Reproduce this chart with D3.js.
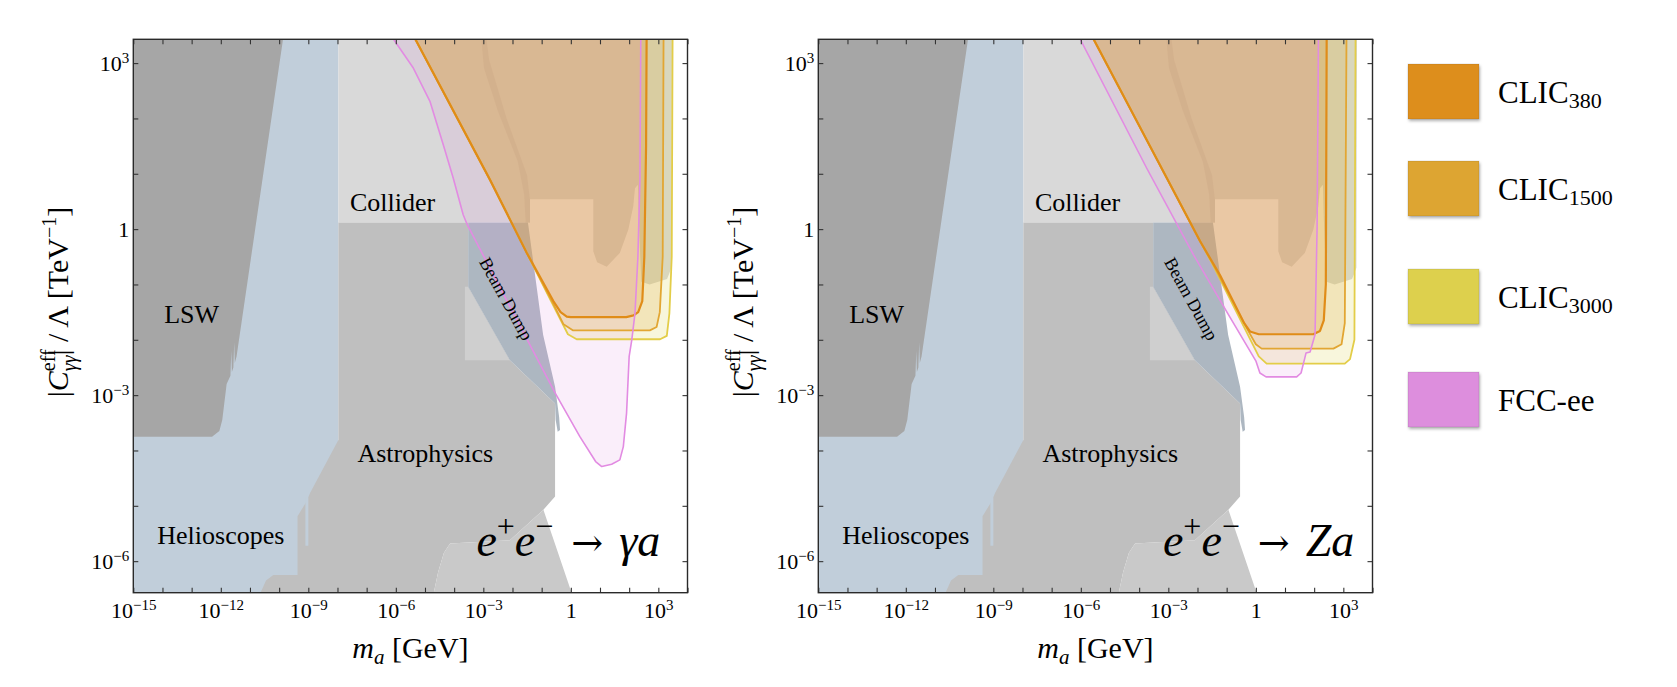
<!DOCTYPE html>
<html>
<head>
<meta charset="utf-8">
<script src="https://cdn.jsdelivr.net/npm/d3@7"></script>
<style>
  body { margin: 0; background: #fff; }
  svg text { font-family: "Liberation Serif", "Times New Roman", serif; fill: #000; }
</style>
</head>
<body>
<svg id="axion" width="1677" height="687"></svg>
<script>
// every boundary is given as [log10(m_a / GeV), log10(|C| / Lambda * TeV)]

// existing bounds (same in both panels)
var helioscopes = [[-15, 3.6], [-7.97, 3.6], [-7.97, -7], [-15, -7]];
var helioSliver = [[-9.1, -4.85], [-9.0, -4.85], [-9.0, -5.72], [-9.1, -5.72]];
var lsw = [[-15, 3.6], [-9.82, 3.6], [-11.46, -2.3], [-11.52, -2.42], [-11.54, -2.05], [-11.57, -2.5],
           [-11.62, -2.58], [-11.64, -2.2], [-11.67, -2.65], [-11.8, -2.8],
           [-11.95, -3.45], [-12.05, -3.65], [-12.3, -3.75], [-15, -3.75]];
var collider = [[-7.97, 3.6], [3.47, 3.6], [3.45, -0.7], [3.3, -0.9], [3.0, -0.95], [2.7, -1.0],
                [2.42, -0.95], [2.38, -0.5], [2.33, 0.2], [2.3, 0.8], [2.2, 0.74], [2.14, 0.41],
                [1.97, -0.01], [1.68, -0.43], [1.23, -0.68], [0.9, -0.6], [0.77, -0.4],
                [0.77, 0.54], [-1.4, 0.54], [-1.4, 0.12], [-7.97, 0.12]];
var colliderStripe = [[-3.1, 3.6], [-2.93, 3.6], [-2.8, 3.06], [-2.2, 2.0], [-1.5, 0.98],
                      [-1.4, 0.53], [-1.4, 0.12], [-1.55, 0.12], [-1.6, 0.62], [-1.82, 1.22],
                      [-2.5, 2.13], [-2.98, 2.91], [-3.07, 3.44]];
var colliderLow = [[-3.63, -1.04], [-3.52, -1.04], [-2.09, -2.37], [-3.63, -2.37]];
var astro = [[-7.97, 0.12], [-3.52, 0.12], [-3.52, -1.04], [-2.09, -2.37], [-0.54, -3.15],
             [-0.54, -4.83], [-0.94, -5.07], [-2.09, -5.62], [-4.14, -5.68], [-4.35, -5.85],
             [-4.55, -6.2], [-4.75, -6.7], [-10.75, -6.7], [-10.45, -6.35], [-10.2, -6.25],
             [-9.37, -6.25], [-9.37, -5.19], [-9.06, -4.92], [-8.94, -4.77], [-7.97, -3.81]];
var astroLow = [[-4.14, -5.68], [-2.09, -5.62], [-0.94, -5.07], [0.11, -6.7], [-4.75, -6.7],
                [-4.55, -6.2], [-4.35, -5.85]];
var beamDump = [[-3.52, 0.12], [-1.47, 0.12], [-0.95, -1.91], [-0.54, -2.85], [-0.4, -3.4],
                [-0.37, -3.63], [-0.45, -3.66], [-0.52, -3.45], [-0.54, -3.15], [-2.09, -2.37],
                [-3.52, -1.04]];

// region names and where they sit [log10 m, log10 C]
var regionNames = ["LSW", "Collider", "Astrophysics", "Helioscopes"];
var regionAt = [[-13.0, -1.7], [-6.11, 0.32], [-4.99, -4.2], [-12.0, -5.69]];
var beamDumpName = "Beam Dump";
var beamDumpAt = [-2.22, -1.26];

// e+ e- -> gamma a
var gammaFcc = [[-6.3, 3.6], [-6.09, 3.44], [-5.4, 2.91], [-4.83, 2.31], [-4.37, 1.52], [-4.03, 0.92],
                [-3.69, 0.26], [-3.55, 0.08], [-2.09, -1.4], [-0.54, -2.96], [0.31, -3.75],
                [0.85, -4.2], [1.06, -4.29], [1.4, -4.25], [1.68, -4.17], [1.8, -3.93],
                [1.91, -3.33], [2.0, -2.3], [2.09, -2.0], [2.2, -1.52], [2.3, -0.5],
                [2.37, 0.89], [2.4, 3.6]];
var gammaClic380 = [[-5.5, 3.6], [-2.77, 0.89], [-1.51, -0.43], [-0.6, -1.3], [-0.35, -1.5],
                    [-0.14, -1.58], [0, -1.59], [1.9, -1.59], [2.15, -1.56], [2.31, -1.5],
                    [2.45, -1.3], [2.52, -0.5], [2.58, 1.5], [2.6, 3.6]];
var gammaClic1500 = [[-5.5, 3.6], [-2.77, 0.89], [-1.51, -0.43], [-0.6, -1.35], [-0.25, -1.72],
                     [0.08, -1.83], [2.71, -1.83], [2.94, -1.77], [3.05, -1.5], [3.15, -0.5],
                     [3.18, 3.6]];
var gammaClic3000 = [[-5.5, 3.6], [-2.77, 0.89], [-1.51, -0.43], [-0.6, -1.38], [-0.1, -1.9],
                     [0.2, -1.99], [3.06, -1.99], [3.29, -1.93], [3.38, -1.52], [3.46, -0.5],
                     [3.49, 3.6]];

// e+ e- -> Z a
var zFcc = [[-6.2, 3.6], [-6.03, 3.44], [-3.74, 1.1], [-2.14, -0.46], [-1.0, -1.49], [0.0, -2.38],
            [0.14, -2.6], [0.35, -2.67], [1.4, -2.67], [1.55, -2.6], [1.67, -2.35], [1.72, -2.24],
            [1.86, -2.22], [2.03, -1.91], [2.1, 0], [2.15, 3.6]];
var zClic380 = [[-5.73, 3.6], [-1.91, -0.22], [-1.23, -0.83], [-0.4, -1.7], [-0.2, -1.85],
                [0.1, -1.9], [1.97, -1.9], [2.2, -1.84], [2.33, -1.65], [2.4, -1.0], [2.43, 3.6]];
var zClic1500 = [[-5.73, 3.6], [-1.91, -0.22], [-1.5, -0.6], [-0.27, -1.83], [0.0, -2.08],
                 [0.2, -2.16], [2.66, -2.16], [2.94, -2.08], [3.05, -1.7], [3.11, 3.6]];
var zClic3000 = [[-5.73, 3.6], [-1.91, -0.22], [-1.5, -0.62], [0.1, -2.3], [0.37, -2.43],
                 [3.05, -2.43], [3.23, -2.35], [3.38, -2.0], [3.42, 3.6]];

var experiments = ["CLIC380", "CLIC1500", "CLIC3000", "FCC-ee"];
var legendMain = ["CLIC", "CLIC", "CLIC", "FCC-ee"];
var legendSub = ["380", "1500", "3000", ""];
var processFinal = ["γa", "Za"];

var xTickExp = d3.range(-15, 5);
var yTickExp = d3.range(-6, 4);

// ---------------------------------------------------------------
var fills = { "CLIC380": "#dd8e1e", "CLIC1500": "#dda532", "CLIC3000": "#ddd04e", "FCC-ee": "#dd8edd" };
var strokes = { "CLIC380": "#e08c18", "CLIC1500": "#e2a633", "CLIC3000": "#e3cd48", "FCC-ee": "#e28be2" };
var strokeW = { "CLIC380": 2.2, "CLIC1500": 1.8, "CLIC3000": 1.8, "FCC-ee": 1.6 };

var width = 554.2, height = 553.4, top0 = 39.3;
var svg = d3.select("svg#axion");
var defs = svg.append("defs");
defs.append("clipPath").attr("id", "plotclip")
    .append("rect").attr("width", width).attr("height", height);
defs.append("filter").attr("id", "shadow").attr("x", "-20%").attr("y", "-20%")
    .attr("width", "150%").attr("height", "150%")
  .append("feDropShadow").attr("dx", 1).attr("dy", 2).attr("stdDeviation", 1.6)
    .attr("flood-color", "#000").attr("flood-opacity", 0.3);

var x = d3.scaleLog().domain([1e-15, 1e4]).range([0, width]);
var y = d3.scaleLog().domain([Math.pow(10, -6.57), Math.pow(10, 3.43)]).range([height, 0]);
var px = function (d) { return x(Math.pow(10, d[0])); };
var py = function (d) { return y(Math.pow(10, d[1])); };
var line = d3.line().x(px).y(py);
var area = function (d) { return line(d) + "Z"; };

function powLabel(t, e, small, raise) {
  t.text(null);
  if (e === 0) { t.text("1"); return; }
  t.append("tspan").text("10");
  t.append("tspan").attr("font-size", small).attr("dy", -raise).text(e < 0 ? "\u2212" + (-e) : e);
}

function drawPanel(left, curves, proc) {
  var g = svg.append("g").attr("transform", "translate(" + left + "," + top0 + ")");
  var plot = g.append("g").attr("clip-path", "url(#plotclip)");

  var bg = [
    [helioscopes, "#c1ceda"], [collider, "#d9d9d9"], [colliderStripe, "#cbcbcb"],
    [astro, "#bfbfbf"], [colliderLow, "#cfcfcf"], [astroLow, "#c9c9c9"],
    [beamDump, "#adb7c1"], [lsw, "#a6a6a6"], [helioSliver, "#c1ceda"]
  ];
  plot.selectAll(".bound").data(bg).enter().append("path")
      .attr("class", "bound")
      .attr("d", function (d) { return area(d[0]); })
      .attr("fill", function (d) { return d[1]; });

  // projected reach
  var order = ["CLIC3000", "CLIC1500", "CLIC380", "FCC-ee"];
  plot.selectAll(".reach").data(order).enter().append("path")
      .attr("class", "reach")
      .attr("d", function (k) { return area(curves[k]); })
      .attr("fill", function (k) { return fills[k]; })
      .attr("fill-opacity", function (k) { return k === "FCC-ee" ? 0.15 : 0.2; });
  plot.selectAll(".edge").data(order).enter().append("path")
      .attr("class", "edge")
      .attr("d", function (k) { return line(curves[k]); })
      .attr("fill", "none")
      .attr("stroke", function (k) { return strokes[k]; })
      .attr("stroke-width", function (k) { return strokeW[k]; })
      .attr("stroke-linejoin", "round");

  // region names
  plot.selectAll(".rname").data(regionNames).enter().append("text")
      .attr("class", "rname")
      .attr("x", function (d, i) { return px(regionAt[i]); })
      .attr("y", function (d, i) { return py(regionAt[i]); })
      .attr("text-anchor", "middle")
      .attr("font-size", 26)
      .text(function (d) { return d; });
  plot.append("text")
      .attr("transform", "translate(" + px(beamDumpAt) + "," + py(beamDumpAt) + ") rotate(61)")
      .attr("text-anchor", "middle").attr("dominant-baseline", "central")
      .attr("font-size", 18)
      .text(beamDumpName);

  // process
  var pt = g.append("text").attr("x", proc === "γa" ? 527 : 536).attr("y", 517)
      .attr("text-anchor", "end").attr("font-size", 46).attr("font-style", "italic");
  pt.append("tspan").text("e");
  pt.append("tspan").attr("font-size", 32).attr("font-style", "normal").attr("dy", -19).text("+");
  pt.append("tspan").attr("dy", 19).text("e");
  pt.append("tspan").attr("font-size", 32).attr("font-style", "normal").attr("dy", -19).text("\u2212");
  pt.append("tspan").attr("dy", 19).attr("dx", 18).attr("font-style", "normal")
      .attr("font-family", "DejaVu Serif").attr("font-size", 38).text("\u2192");
  pt.append("tspan").attr("dx", 16).text(proc);

  // axes: ticks every decade, pointing inward, on all four sides
  var xt = xTickExp.map(function (e) { return Math.pow(10, e); });
  var yt = yTickExp.map(function (e) { return Math.pow(10, e); });
  var gb = g.append("g").attr("transform", "translate(0," + height + ")")
      .call(d3.axisBottom(x).tickValues(xt).tickSizeInner(-5).tickSizeOuter(0).tickPadding(10));
  var gt = g.append("g")
      .call(d3.axisTop(x).tickValues(xt).tickSizeInner(-5).tickSizeOuter(0).tickFormat(""));
  var gl = g.append("g")
      .call(d3.axisLeft(y).tickValues(yt).tickSizeInner(-5).tickSizeOuter(0).tickPadding(4));
  var gr = g.append("g").attr("transform", "translate(" + width + ",0)")
      .call(d3.axisRight(y).tickValues(yt).tickSizeInner(-5).tickSizeOuter(0).tickFormat(""));
  [gb, gt, gl, gr].forEach(function (a) {
    a.select(".domain").remove();
    a.selectAll(".tick line").attr("stroke", "#333").attr("stroke-width", 1.1);
    a.attr("font-family", null).attr("font-size", null);
  });
  gb.selectAll(".tick text").each(function (d) {
    var e = Math.round(Math.log10(d));
    var t = d3.select(this).attr("font-size", 22).attr("fill", "#000").attr("dy", "0.71em");
    if (e % 3 !== 0) { t.text(null); return; }
    powLabel(t, e, 15, 8);
  });
  gl.selectAll(".tick text").each(function (d) {
    var e = Math.round(Math.log10(d));
    var t = d3.select(this).attr("font-size", 22).attr("fill", "#000").attr("dy", "0.34em");
    if (e % 3 !== 0) { t.text(null); return; }
    powLabel(t, e, 15, 8);
  });

  g.append("rect").attr("width", width).attr("height", height)
      .attr("fill", "none").attr("stroke", "#2a2a2a").attr("stroke-width", 1.4);

  // axis titles
  var xtitle = g.append("text").attr("x", width / 2).attr("y", 619)
      .attr("text-anchor", "middle").attr("font-size", 30);
  xtitle.append("tspan").attr("font-style", "italic").text("m");
  xtitle.append("tspan").attr("font-style", "italic").attr("font-size", 21).attr("dy", 6).text("a");
  xtitle.append("tspan").attr("dy", -6).text(" [GeV]");

  var ytitle = g.append("text")
      .attr("transform", "translate(-65," + (height / 2 - 14) + ") rotate(-90)")
      .attr("text-anchor", "middle").attr("font-size", 30);
  ytitle.append("tspan").text("|");
  ytitle.append("tspan").attr("font-style", "italic").text("C");
  var eff = ytitle.append("tspan").attr("font-size", 20).attr("dy", -13).text("eff");
  var gg = ytitle.append("tspan").attr("font-size", 20).attr("font-style", "italic").attr("dy", 21).text("γγ");
  ytitle.append("tspan").attr("dy", -8).text("| / Λ [TeV");
  ytitle.append("tspan").attr("font-size", 20).attr("dy", -12).text("\u22121");
  ytitle.append("tspan").attr("dy", 12).text("]");
  gg.attr("dx", -eff.node().getComputedTextLength());
}

drawPanel(133.3, { "CLIC380": gammaClic380, "CLIC1500": gammaClic1500, "CLIC3000": gammaClic3000, "FCC-ee": gammaFcc }, processFinal[0]);
drawPanel(818.3, { "CLIC380": zClic380, "CLIC1500": zClic1500, "CLIC3000": zClic3000, "FCC-ee": zFcc }, processFinal[1]);

// legend
var legendTop = [64, 161, 269, 372];
var lg = svg.append("g").attr("transform", "translate(1408,0)");
var items = lg.selectAll(".item").data(experiments).enter().append("g")
    .attr("class", "item")
    .attr("transform", function (d, i) { return "translate(0," + legendTop[i] + ")"; });
items.append("rect").attr("width", 71).attr("height", 55)
    .attr("fill", function (d) { return fills[d]; })
    .attr("stroke", "rgba(0,0,0,0.12)").attr("stroke-width", 0.8)
    .attr("filter", "url(#shadow)");
var lt = items.append("text").attr("x", 90).attr("y", 39).attr("font-size", 31);
lt.append("tspan").text(function (d, i) { return legendMain[i]; });
lt.append("tspan").attr("font-size", 22).attr("dy", 5).text(function (d, i) { return legendSub[i]; });
</script>
</body>
</html>
